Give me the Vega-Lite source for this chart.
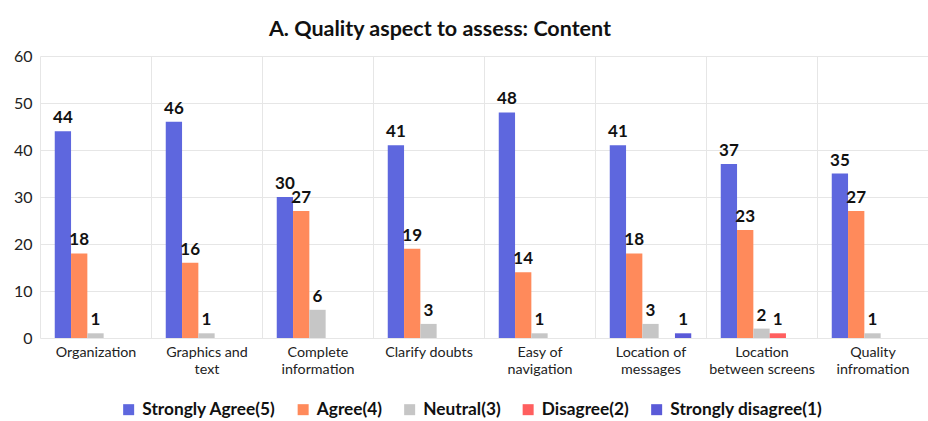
{
  "$schema": "https://vega.github.io/schema/vega-lite/v6.json",
  "width": 888,
  "height": 282,
  "autosize": "none",
  "padding": {"left": 40, "top": 56, "right": 0, "bottom": 83},
  "config": {"font": "Lato", "view": {"stroke": null}},
  "title": {"text": "A. Quality aspect to assess: Content", "fontSize": 21.5, "fontWeight": "bold", "color": "#111111", "anchor": "middle", "dx": -44, "offset": 8},
  "data": {"values": [
    {"aspect": "Organization", "response": "Strongly Agree(5)", "count": 44},
    {"aspect": "Organization", "response": "Agree(4)", "count": 18},
    {"aspect": "Organization", "response": "Neutral(3)", "count": 1},
    {"aspect": "Graphics and text", "response": "Strongly Agree(5)", "count": 46},
    {"aspect": "Graphics and text", "response": "Agree(4)", "count": 16},
    {"aspect": "Graphics and text", "response": "Neutral(3)", "count": 1},
    {"aspect": "Complete information", "response": "Strongly Agree(5)", "count": 30},
    {"aspect": "Complete information", "response": "Agree(4)", "count": 27},
    {"aspect": "Complete information", "response": "Neutral(3)", "count": 6},
    {"aspect": "Clarify doubts", "response": "Strongly Agree(5)", "count": 41},
    {"aspect": "Clarify doubts", "response": "Agree(4)", "count": 19},
    {"aspect": "Clarify doubts", "response": "Neutral(3)", "count": 3},
    {"aspect": "Easy of navigation", "response": "Strongly Agree(5)", "count": 48},
    {"aspect": "Easy of navigation", "response": "Agree(4)", "count": 14},
    {"aspect": "Easy of navigation", "response": "Neutral(3)", "count": 1},
    {"aspect": "Location of messages", "response": "Strongly Agree(5)", "count": 41},
    {"aspect": "Location of messages", "response": "Agree(4)", "count": 18},
    {"aspect": "Location of messages", "response": "Neutral(3)", "count": 3},
    {"aspect": "Location of messages", "response": "Strongly disagree(1)", "count": 1},
    {"aspect": "Location between screens", "response": "Strongly Agree(5)", "count": 37},
    {"aspect": "Location between screens", "response": "Agree(4)", "count": 23},
    {"aspect": "Location between screens", "response": "Neutral(3)", "count": 2},
    {"aspect": "Location between screens", "response": "Disagree(2)", "count": 1},
    {"aspect": "Quality infromation", "response": "Strongly Agree(5)", "count": 35},
    {"aspect": "Quality infromation", "response": "Agree(4)", "count": 27},
    {"aspect": "Quality infromation", "response": "Neutral(3)", "count": 1}
  ]},
  "encoding": {
    "x": {
      "field": "aspect", "type": "nominal", "sort": null,
      "scale": {"paddingInner": 0, "paddingOuter": 0},
      "axis": {
        "title": null, "labelAngle": 0, "labelFontSize": 14.3, "labelColor": "#222222",
        "labelPadding": 7, "labelLineHeight": 17, "ticks": false, "domain": false,
        "grid": true, "gridColor": "#e6e6e6", "tickBand": "extent",
        "labelExpr": "{'Graphics and text': ['Graphics and', 'text'], 'Complete information': ['Complete', 'information'], 'Easy of navigation': ['Easy of', 'navigation'], 'Location of messages': ['Location of', 'messages'], 'Location between screens': ['Location', 'between screens'], 'Quality infromation': ['Quality', 'infromation']}[datum.value] || datum.value"
      }
    },
    "xOffset": {
      "field": "response", "type": "nominal",
      "scale": {"domain": ["Strongly Agree(5)", "Agree(4)", "Neutral(3)", "Disagree(2)", "Strongly disagree(1)"], "paddingInner": 0, "paddingOuter": 0.905}
    },
    "y": {
      "field": "count", "type": "quantitative",
      "scale": {"domain": [0, 60]},
      "axis": {
        "title": null, "values": [0, 10, 20, 30, 40, 50, 60], "labelFontSize": 16,
        "labelColor": "#222222", "labelPadding": 8, "ticks": false, "domain": false,
        "gridColor": "#e6e6e6"
      }
    }
  },
  "layer": [
    {
      "mark": {"type": "bar"},
      "encoding": {
        "color": {
          "field": "response", "type": "nominal",
          "scale": {
            "domain": ["Strongly Agree(5)", "Agree(4)", "Neutral(3)", "Disagree(2)", "Strongly disagree(1)"],
            "range": ["#5e67de", "#ff8a5b", "#c6c6c6", "#ff5f5f", "#5a5ad8"]
          },
          "legend": {
            "title": null, "orient": "none", "direction": "horizontal",
            "legendX": 80, "legendY": 345, "symbolType": "square", "symbolSize": 121,
            "symbolStrokeWidth": 0, "labelFontSize": 17.3, "labelFontWeight": "bold",
            "labelColor": "#111111", "labelOffset": 5, "columnPadding": 18.5
          }
        }
      }
    },
    {
      "mark": {"type": "text", "baseline": "alphabetic", "dy": -8, "fontSize": 17, "fontWeight": "bold", "color": "#111111"},
      "encoding": {"text": {"field": "count", "type": "quantitative"}}
    }
  ]
}
